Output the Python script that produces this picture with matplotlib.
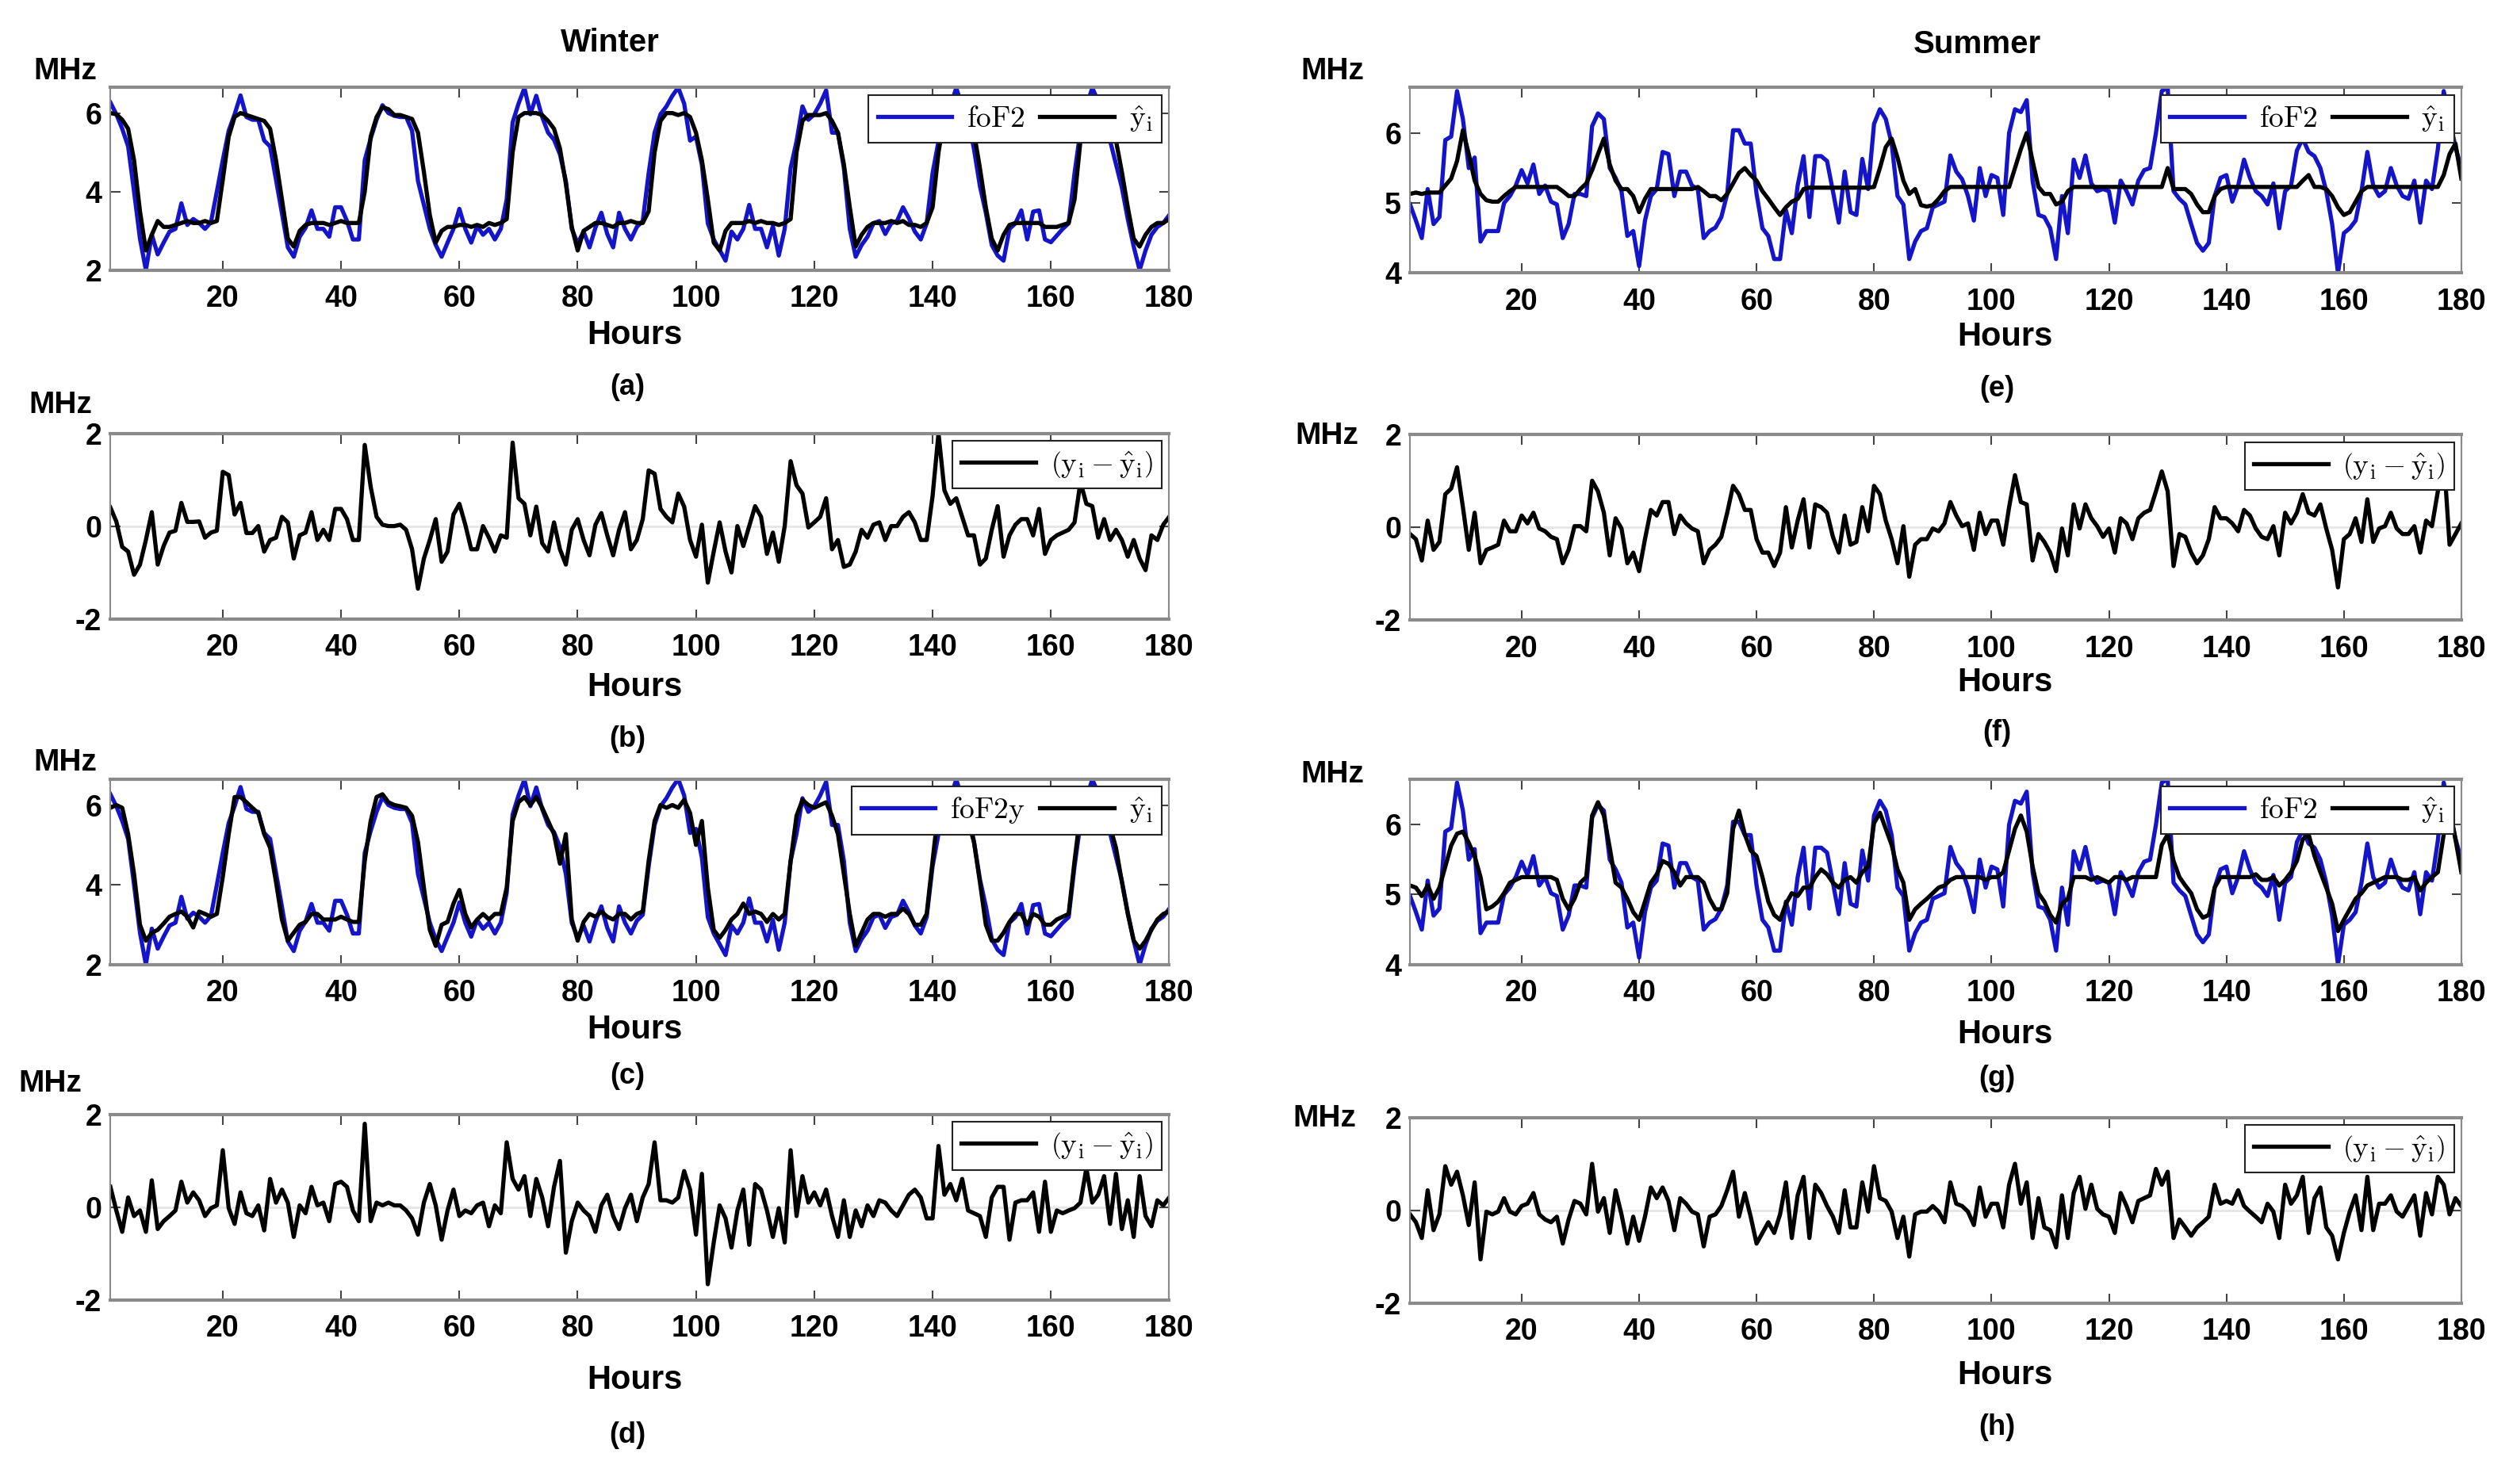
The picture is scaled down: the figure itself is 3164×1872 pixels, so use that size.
import matplotlib
matplotlib.use('Agg')
import matplotlib.pyplot as plt
import numpy as np

plt.rcParams['font.family'] = ['Liberation Sans', 'DejaVu Sans']
plt.rcParams['mathtext.fontset'] = 'cm'
plt.rcParams['axes.unicode_minus'] = False

hours = list(range(1, 181))

# Winter, panel (a)/(c): measured foF2
winter_fof2 = [
    6.27, 5.97, 5.6, 5.15, 4.0, 2.8, 2.0, 2.9, 2.4, 2.7,
    2.98, 3.05, 3.7, 3.15, 3.3, 3.2, 3.05, 3.22, 4.0, 4.8,
    5.55, 5.97, 6.45, 5.9, 5.83, 5.83, 5.3, 5.15, 4.3, 3.45,
    2.58, 2.34, 2.85, 3.08, 3.52, 3.05, 3.05, 2.85, 3.6, 3.6,
    3.25, 2.78, 2.78, 4.8, 5.35, 5.83, 6.2, 6.0, 5.93, 5.9,
    5.9, 5.55, 4.27, 3.66, 3.05, 2.64, 2.34, 2.7, 3.05, 3.56,
    3.05, 2.7, 3.12, 2.9, 3.05, 2.78, 3.05, 3.8, 5.76, 6.24,
    6.64, 5.97, 6.44, 5.9, 5.5, 5.32, 4.95, 4.27, 3.05, 2.68,
    2.98, 2.58, 3.08, 3.46, 2.92, 2.58, 3.46, 3.05, 2.78, 3.1,
    3.25, 4.47, 5.5, 5.97, 6.17, 6.44, 6.65, 6.24, 5.3, 5.4,
    4.68, 3.19, 2.78, 2.51, 2.24, 2.98, 2.78, 3.05, 3.66, 3.05,
    3.05, 2.58, 3.12, 2.37, 3.05, 4.6, 5.28, 6.17, 5.83, 5.97,
    6.24, 6.58, 5.5, 5.5, 4.6, 3.05, 2.34, 2.64, 2.85, 3.19,
    3.25, 2.92, 3.19, 3.25, 3.6, 3.32, 2.98, 2.78, 3.19, 4.47,
    5.28, 5.83, 6.17, 6.64, 6.17, 5.83, 5.08, 4.14, 3.46, 2.64,
    2.37, 2.24, 3.05, 3.19, 3.52, 2.78, 3.49, 3.52, 2.78, 2.71,
    2.88, 3.05, 3.19, 4.47, 5.55, 6.17, 6.64, 6.3, 6.1, 5.3,
    4.7, 4.1, 3.3, 2.6, 2.0, 2.5, 2.9, 3.1, 3.2, 3.4]

# Winter, panel (a): model output
winter_yhat_a = [
    6.0, 5.97, 5.83, 5.6, 4.8, 3.5, 2.5, 2.9, 3.25, 3.1,
    3.1, 3.15, 3.2, 3.25, 3.2, 3.2, 3.25, 3.2, 3.25, 4.3,
    5.4, 5.9, 6.0, 5.95, 5.9, 5.85, 5.8, 5.6, 4.8, 3.8,
    2.8, 2.6, 3.0, 3.15, 3.2, 3.2, 3.2, 3.15, 3.2, 3.25,
    3.2, 3.2, 3.2, 4.0, 5.4, 5.9, 6.15, 6.1, 5.95, 5.95,
    5.9, 5.85, 5.5, 4.5, 3.4, 2.7, 3.0, 3.1, 3.1, 3.15,
    3.15, 3.1, 3.15, 3.1, 3.2, 3.15, 3.2, 3.3, 5.0, 5.9,
    6.0, 6.0, 6.0, 5.95, 5.8, 5.6, 5.1, 4.2, 3.1, 2.5,
    3.0, 3.1, 3.2, 3.2, 3.15, 3.1, 3.2, 3.2, 3.25, 3.2,
    3.2, 3.5, 5.0, 5.8, 6.0, 6.0, 5.95, 6.0, 5.9, 5.5,
    4.8, 3.8, 2.7, 2.5, 3.0, 3.2, 3.2, 3.2, 3.25, 3.2,
    3.25, 3.2, 3.2, 3.15, 3.2, 3.3, 5.0, 5.8, 5.95, 5.95,
    5.95, 6.0, 5.8, 5.5, 4.7, 3.6, 2.6, 2.9, 3.1, 3.2,
    3.2, 3.2, 3.25, 3.2, 3.25, 3.15, 3.15, 3.1, 3.2, 3.6,
    5.0, 5.9, 6.05, 6.1, 6.0, 5.9, 5.5, 4.6, 3.6, 2.8,
    2.5, 2.9, 3.15, 3.2, 3.2, 3.2, 3.2, 3.2, 3.1, 3.1,
    3.1, 3.15, 3.2, 3.8, 5.3, 5.9, 6.05, 6.0, 5.95, 5.8,
    5.3, 4.5, 3.6, 2.8, 2.6, 2.9, 3.1, 3.2, 3.2, 3.3]

# Winter, panel (b): residual
winter_resid_b = [
    0.4, 0.1, -0.45, -0.55, -1.05, -0.83, -0.3, 0.3, -0.83, -0.43,
    -0.14, -0.1, 0.5, 0.09, 0.09, 0.1, -0.25, -0.14, -0.1, 1.17,
    1.1, 0.25, 0.5, -0.15, -0.15, 0.0, -0.55, -0.3, -0.25, 0.2,
    0.08, -0.7, -0.2, -0.14, 0.3, -0.3, -0.08, -0.3, 0.37, 0.37,
    0.15, -0.3, -0.3, 1.75, 0.85, 0.2, 0.03, 0.0, 0.0, 0.03,
    -0.08, -0.5, -1.35, -0.7, -0.3, 0.15, -0.77, -0.55, 0.25, 0.48,
    0.03, -0.5, -0.5, 0.0, -0.25, -0.55, -0.2, -0.25, 1.8, 0.6,
    0.48, -0.2, 0.42, -0.37, -0.55, 0.08, -0.5, -0.83, -0.08, 0.15,
    -0.3, -0.63, 0.03, 0.28, -0.2, -0.63, -0.08, 0.3, -0.5, -0.3,
    0.15, 1.2, 1.13, 0.37, 0.2, 0.08, 0.7, 0.42, -0.3, -0.66,
    0.03, -1.22, -0.55, 0.08, -0.55, -1.0, 0.0, -0.43, 0.0, 0.43,
    0.2, -0.6, -0.14, -0.77, 0.0, 1.4, 0.88, 0.7, -0.03, 0.08,
    0.2, 0.6, -0.5, -0.3, -0.88, -0.83, -0.55, -0.08, -0.25, 0.03,
    0.08, -0.3, 0.0, 0.0, 0.2, 0.3, 0.08, -0.3, -0.3, 0.65,
    2.0, 0.77, 0.48, 0.6, 0.2, -0.2, -0.2, -0.83, -0.7, -0.08,
    0.43, -0.66, -0.2, 0.03, 0.15, 0.15, -0.2, 0.37, -0.6, -0.3,
    -0.2, -0.14, -0.08, 0.08, 0.95, 0.48, 0.43, -0.25, 0.15, -0.3,
    -0.08, -0.3, -0.66, -0.3, -0.7, -0.95, -0.2, -0.3, 0.03, 0.2]

# Winter, panel (c): model output
winter_yhat_c = [
    5.93, 6.0, 5.93, 5.27, 4.27, 3.0, 2.6, 2.8, 2.87, 3.03,
    3.2, 3.27, 3.33, 3.2, 2.93, 3.33, 3.27, 3.2, 3.27, 4.2,
    5.27, 6.2, 6.2, 6.07, 5.93, 5.8, 5.27, 4.93, 4.07, 3.13,
    2.6, 2.8, 3.0, 3.07, 3.27, 3.27, 3.13, 3.13, 3.13, 3.2,
    3.13, 3.07, 3.07, 4.6, 5.6, 6.2, 6.27, 6.07, 6.0, 5.97,
    5.93, 5.73, 5.07, 3.93, 2.87, 2.47, 3.0, 3.07, 3.53, 3.87,
    3.27, 2.93, 3.13, 3.27, 3.13, 3.27, 3.27, 3.93, 5.6, 6.07,
    6.2, 6.0, 6.2, 5.93, 5.6, 5.27, 4.53, 5.27, 3.13, 2.6,
    3.07, 3.27, 3.2, 3.33, 3.2, 3.13, 3.27, 3.27, 3.13, 3.27,
    3.33, 4.6, 5.6, 6.0, 5.93, 6.0, 5.93, 6.13, 5.8, 5.0,
    5.6, 3.93, 2.87, 2.67, 2.87, 3.13, 3.27, 3.53, 3.27, 3.33,
    3.27, 3.07, 3.27, 3.13, 3.27, 4.6, 5.73, 6.13, 6.0, 5.93,
    6.0, 6.07, 5.73, 5.27, 4.27, 3.27, 2.47, 2.8, 3.13, 3.27,
    3.27, 3.2, 3.27, 3.27, 3.4, 3.27, 3.0, 3.0, 3.27, 4.6,
    5.93, 6.27, 6.33, 6.27, 5.93, 5.6, 5.07, 4.07, 3.0, 2.6,
    2.6, 2.8, 3.07, 3.27, 3.27, 3.0, 3.27, 3.2, 3.0, 3.0,
    3.13, 3.2, 3.27, 4.6, 5.8, 6.27, 6.4, 6.2, 5.93, 5.47,
    4.93, 4.07, 3.27, 2.6, 2.4, 2.6, 2.87, 3.13, 3.27, 3.33]

# Winter, panel (d): residual
winter_resid_d = [
    0.44, -0.07, -0.53, 0.21, -0.19, -0.07, -0.53, 0.58, -0.47, -0.3,
    -0.19, -0.07, 0.55, 0.1, 0.32, 0.15, -0.19, -0.02, 0.04, 1.23,
    -0.02, -0.36, 0.32, -0.13, -0.19, 0.04, -0.5, 0.61, 0.1, 0.38,
    0.1, -0.64, 0.04, -0.13, 0.44, 0.04, 0.1, -0.3, 0.5, 0.55,
    0.44, -0.07, -0.3, 1.8, -0.3, 0.1, 0.04, 0.1, 0.04, 0.04,
    -0.07, -0.24, -0.59, 0.1, 0.5, 0.04, -0.7, -0.07, 0.38, -0.19,
    -0.07, -0.13, 0.04, 0.1, -0.41, 0.04, -0.13, 1.4, 0.61, 0.38,
    0.67, -0.19, 0.61, 0.21, -0.41, 0.44, 1.0, -0.98, -0.3, 0.1,
    -0.07, -0.19, -0.53, 0.04, 0.27, -0.19, -0.47, -0.02, 0.27, -0.3,
    0.21, 0.5, 1.4, 0.15, 0.15, 0.1, 0.21, 0.78, 0.38, -0.59,
    0.72, -1.66, -0.76, 0.04, -0.24, -0.87, -0.07, 0.38, -0.81, 0.5,
    0.38, -0.07, -0.64, -0.02, -0.76, 1.23, -0.19, 0.67, 0.1, 0.32,
    0.04, 0.38, -0.19, -0.64, 0.15, -0.64, -0.07, -0.41, 0.04, -0.19,
    0.15, 0.1, -0.07, -0.19, 0.04, 0.27, 0.38, 0.21, -0.24, -0.24,
    1.32, 0.27, 0.5, 0.15, 0.61, -0.07, -0.13, -0.19, -0.64, 0.21,
    0.44, 0.44, -0.7, 0.1, 0.15, 0.15, 0.32, -0.53, 0.55, -0.53,
    -0.07, -0.13, -0.07, -0.02, 0.1, 0.84, 0.1, 0.27, 0.67, -0.36,
    0.72, -0.47, 0.15, -0.64, 0.67, -0.19, -0.41, 0.15, 0.04, 0.21]

# Summer, panel (e)/(g): measured foF2
summer_fof2 = [
    4.98, 4.75, 4.5, 5.2, 4.7, 4.8, 5.9, 5.95, 6.6, 6.2,
    5.5, 5.65, 4.45, 4.6, 4.6, 4.6, 5.0, 5.1, 5.25, 5.47,
    5.28, 5.55, 5.13, 5.25, 5.02, 4.98, 4.5, 4.7, 5.13, 5.13,
    5.1, 6.1, 6.28, 6.2, 5.5, 5.36, 5.17, 4.53, 4.6, 4.1,
    4.75, 5.1, 5.2, 5.73, 5.7, 5.1, 5.45, 5.45, 5.25, 5.2,
    4.5, 4.6, 4.65, 4.8, 5.13, 6.04, 6.04, 5.85, 5.85, 5.13,
    4.64, 4.53, 4.2, 4.2, 4.9, 4.57, 5.25, 5.67, 4.8, 5.67,
    5.67, 5.6, 5.17, 4.72, 5.45, 4.87, 4.83, 5.63, 5.2, 6.13,
    6.34, 6.2, 5.85, 5.1, 4.98, 4.2, 4.45, 4.6, 4.64, 4.94,
    4.98, 5.02, 5.68, 5.45, 5.34, 5.1, 4.75, 5.5, 5.1, 5.4,
    5.36, 4.83, 6.0, 6.34, 6.3, 6.47, 5.32, 4.83, 4.8, 4.64,
    4.2, 5.1, 4.57, 5.62, 5.36, 5.68, 5.28, 5.17, 5.2, 5.17,
    4.72, 5.32, 5.17, 4.98, 5.32, 5.47, 5.5, 6.0, 6.6, 6.65,
    5.17, 5.06, 4.98, 4.7, 4.43, 4.32, 4.43, 5.1, 5.36, 5.4,
    5.02, 5.25, 5.62, 5.36, 5.17, 5.1, 4.98, 5.28, 4.64, 5.17,
    5.25, 5.75, 5.92, 5.73, 5.67, 5.5, 5.17, 4.7, 4.0, 4.57,
    4.64, 4.75, 5.17, 5.73, 5.25, 5.1, 5.17, 5.5, 5.25, 5.1,
    5.06, 5.32, 4.72, 5.32, 5.2, 5.77, 6.6, 6.2, 5.8, 5.5]

# Summer, panel (e): model output
summer_yhat_e = [
    5.13, 5.15, 5.13, 5.15, 5.15, 5.15, 5.25, 5.35, 5.6, 6.04,
    5.7, 5.32, 5.13, 5.04, 5.02, 5.02, 5.1, 5.17, 5.23, 5.23,
    5.23, 5.23, 5.23, 5.23, 5.23, 5.23, 5.17, 5.1, 5.1, 5.2,
    5.28, 5.47, 5.7, 5.92, 5.55, 5.32, 5.2, 5.2, 5.1, 4.87,
    5.06, 5.2, 5.2, 5.2, 5.2, 5.2, 5.2, 5.2, 5.2, 5.23,
    5.17, 5.1, 5.1, 5.04, 5.13, 5.28, 5.43, 5.5, 5.4, 5.32,
    5.17, 5.06, 4.94, 4.83, 4.94, 5.02, 5.06, 5.2, 5.22, 5.22,
    5.22, 5.22, 5.22, 5.22, 5.22, 5.22, 5.22, 5.22, 5.22, 5.23,
    5.5, 5.8, 5.92, 5.65, 5.32, 5.13, 5.2, 4.97, 4.95, 4.97,
    5.06, 5.17, 5.23, 5.23, 5.23, 5.23, 5.23, 5.23, 5.23, 5.23,
    5.23, 5.23, 5.23, 5.5, 5.77, 6.0, 5.6, 5.23, 5.13, 5.13,
    4.98, 5.02, 5.17, 5.23, 5.23, 5.23, 5.23, 5.23, 5.23, 5.23,
    5.23, 5.23, 5.23, 5.23, 5.23, 5.23, 5.23, 5.23, 5.23, 5.5,
    5.2, 5.2, 5.2, 5.13, 4.98, 4.87, 4.87, 5.1, 5.2, 5.23,
    5.23, 5.23, 5.23, 5.23, 5.23, 5.23, 5.23, 5.23, 5.23, 5.23,
    5.23, 5.23, 5.32, 5.4, 5.23, 5.23, 5.2, 5.1, 4.94, 4.83,
    4.87, 5.02, 5.17, 5.23, 5.23, 5.23, 5.23, 5.23, 5.23, 5.23,
    5.23, 5.23, 5.23, 5.23, 5.23, 5.23, 5.4, 5.7, 5.85, 5.35]

# Summer, panel (f): residual
summer_resid_f = [
    -0.14, -0.25, -0.71, 0.15, -0.48, -0.31, 0.72, 0.84, 1.3, 0.44,
    -0.48, 0.32, -0.77, -0.48, -0.43, -0.37, 0.15, -0.08, -0.08, 0.26,
    0.09, 0.32, -0.02, -0.08, -0.2, -0.25, -0.77, -0.48, 0.03, 0.03,
    -0.08, 1.01, 0.78, 0.32, -0.6, 0.2, -0.02, -0.77, -0.54, -0.94,
    -0.25, 0.38, 0.26, 0.55, 0.55, -0.14, 0.26, 0.09, -0.02, -0.08,
    -0.77, -0.48, -0.37, -0.2, 0.32, 0.9, 0.72, 0.38, 0.38, -0.25,
    -0.54, -0.54, -0.83, -0.54, 0.44, -0.43, 0.15, 0.61, -0.43, 0.5,
    0.44, 0.32, -0.2, -0.54, 0.26, -0.37, -0.31, 0.44, -0.08, 0.9,
    0.72, 0.15, -0.25, -0.77, 0.03, -1.06, -0.37, -0.25, -0.25, -0.02,
    -0.08, 0.09, 0.55, 0.26, 0.03, 0.09, -0.48, 0.32, -0.14, 0.15,
    0.15, -0.37, 0.44, 1.13, 0.55, 0.5, -0.71, -0.14, -0.31, -0.54,
    -0.94, -0.02, -0.6, 0.5, -0.02, 0.5, 0.2, 0.03, -0.2, -0.02,
    -0.54, 0.2, 0.09, -0.25, 0.2, 0.32, 0.38, 0.78, 1.21, 0.78,
    -0.83, -0.14, -0.2, -0.54, -0.77, -0.6, -0.25, 0.44, 0.2, 0.2,
    0.09, -0.08, 0.38, 0.26, -0.02, -0.2, -0.25, 0.03, -0.6, 0.32,
    0.09, 0.32, 0.72, 0.32, 0.26, 0.5, -0.02, -0.48, -1.29, -0.25,
    -0.14, 0.2, -0.31, 0.61, -0.31, -0.02, 0.03, 0.32, -0.02, -0.14,
    -0.14, 0.03, -0.54, 0.15, 0.03, 0.78, 1.53, -0.37, -0.14, 0.09]

# Summer, panel (g): model output
summer_yhat_g = [
    5.13, 5.1, 4.98, 5.13, 4.94, 5.1, 5.4, 5.7, 5.87, 5.9,
    5.74, 5.55, 5.25, 4.79, 4.83, 4.9, 5.02, 5.17, 5.21, 5.25,
    5.25, 5.25, 5.25, 5.25, 5.25, 5.21, 4.94, 4.79, 4.94, 5.17,
    5.25, 6.13, 6.32, 6.13, 5.67, 5.17, 5.1, 4.94, 4.75, 4.64,
    4.9, 5.17, 5.29, 5.48, 5.44, 5.32, 5.13, 5.25, 5.25, 5.25,
    5.17, 4.94, 4.79, 4.79, 5.02, 5.94, 6.2, 5.86, 5.63, 5.55,
    5.25, 4.9, 4.71, 4.64, 4.87, 5.02, 4.98, 5.1, 5.1, 5.25,
    5.36, 5.29, 5.17, 5.1, 5.21, 5.25, 5.17, 5.32, 5.4, 6.02,
    6.17, 5.94, 5.71, 5.36, 5.17, 4.64, 4.79, 4.87, 4.94, 5.02,
    5.1, 5.13, 5.21, 5.25, 5.25, 5.25, 5.25, 5.25, 5.21, 5.25,
    5.25, 5.32, 5.63, 5.94, 6.13, 5.9, 5.4, 5.02, 4.9, 4.71,
    4.6, 4.87, 4.94, 5.25, 5.25, 5.25, 5.21, 5.25, 5.21, 5.17,
    5.25, 5.25, 5.21, 5.25, 5.25, 5.25, 5.25, 5.25, 5.71, 5.86,
    5.48, 5.25, 5.13, 5.02, 4.79, 4.67, 4.71, 5.1, 5.25, 5.25,
    5.25, 5.25, 5.25, 5.25, 5.29, 5.21, 5.21, 5.25, 5.13, 5.21,
    5.32, 5.48, 5.79, 5.86, 5.55, 5.32, 5.1, 4.87, 4.48, 4.64,
    4.79, 4.94, 5.02, 5.13, 5.17, 5.21, 5.25, 5.25, 5.25, 5.21,
    5.21, 5.25, 5.06, 5.17, 5.25, 5.32, 5.86, 6.24, 5.79, 5.32]

# Summer, panel (h): residual
summer_resid_h = [
    -0.09, -0.26, -0.6, 0.43, -0.43, -0.09, 0.95, 0.55, 0.83, 0.32,
    -0.32, 0.6, -1.06, -0.03, -0.09, -0.03, 0.26, -0.03, -0.09, 0.09,
    0.14, 0.37, -0.09, -0.2, -0.26, -0.14, -0.72, -0.2, 0.2, 0.14,
    -0.09, 1.0, -0.03, 0.26, -0.49, 0.43, -0.09, -0.72, -0.14, -0.66,
    -0.14, 0.49, 0.26, 0.49, 0.2, -0.43, 0.26, 0.14, -0.03, -0.09,
    -0.78, -0.14, -0.09, 0.09, 0.43, 0.83, -0.14, 0.37, -0.14, -0.72,
    -0.49, -0.26, -0.49, -0.09, 0.6, -0.6, 0.32, 0.72, -0.6, 0.55,
    0.37, 0.09, -0.14, -0.49, 0.43, -0.37, -0.37, 0.6, -0.03, 0.95,
    0.26, 0.2, -0.03, -0.6, -0.14, -1.0, -0.09, -0.03, -0.03, 0.09,
    -0.03, -0.26, 0.6, 0.14, 0.09, -0.03, -0.32, 0.49, -0.14, 0.14,
    0.14, -0.37, 0.55, 1.0, 0.14, 0.6, -0.6, 0.26, -0.37, -0.43,
    -0.8, 0.32, -0.6, 0.37, 0.72, 0.03, 0.55, 0.03, -0.09, -0.14,
    -0.49, 0.37, 0.09, -0.26, 0.2, 0.26, 0.32, 0.89, 0.55, 0.83,
    -0.6, -0.2, -0.37, -0.55, -0.37, -0.26, -0.14, 0.55, 0.14, 0.2,
    0.14, 0.43, 0.09, -0.03, -0.14, -0.26, 0.14, -0.03, -0.6, 0.55,
    0.14, 0.32, 0.72, -0.49, 0.26, 0.49, -0.37, -0.55, -1.06, -0.49,
    -0.03, 0.32, -0.43, 0.72, -0.43, 0.14, 0.14, 0.32, -0.03, -0.14,
    0.09, 0.32, -0.55, 0.37, -0.09, 0.72, 0.55, -0.09, 0.26, 0.09]

BLUE = '#1414c8'
EDGE = '#8a8a8a'
LW = 3.8

fit_lab = r'$\hat{\mathrm{y}}_\mathrm{i}$'
res_lab = r'$\left(\mathrm{y}_\mathrm{i}-\hat{\mathrm{y}}_\mathrm{i}\right)$'

fig = plt.figure(figsize=(31.64, 18.72), dpi=100)

left_x = (0.044, 0.422)
right_x = (0.562, 0.419)
rows = [(0.818, 0.123), (0.583, 0.125), (0.350, 0.125), (0.124, 0.125)]
rows_r = [(0.816, 0.125), (0.582, 0.125), (0.350, 0.125), (0.122, 0.125)]


def style(ax, ylim, yticks):
    ax.set_xlim(1, 180)
    ax.set_ylim(*ylim)
    ax.set_xticks(range(20, 181, 20))
    ax.set_yticks(yticks)
    ax.tick_params(direction='in', length=9, width=1.5, color='#444444',
                   top=True, right=True, labelsize=27)
    ax.tick_params(axis='x', pad=13)
    ax.tick_params(axis='y', pad=8)
    for lab in ax.get_xticklabels() + ax.get_yticklabels():
        lab.set_fontweight('bold')
    for name, sp in ax.spines.items():
        sp.set_color(EDGE)
        sp.set_linewidth(3.0 if name in ('top', 'bottom') else 1.5)


def legend(ax, ncol):
    leg = ax.legend(loc='upper right', ncol=ncol, fontsize=27, frameon=True,
                    fancybox=False, framealpha=1, edgecolor='#222222',
                    handlelength=2.5, handletextpad=0.5, columnspacing=0.5,
                    borderpad=0.3, borderaxespad=0.25)
    leg.get_frame().set_linewidth(1.5)


def fit_panel(pos, meas, meas_lab, fit, ylim, yticks):
    ax = fig.add_axes(pos)
    ax.plot(hours, meas, color=BLUE, lw=LW, label=r'$\mathrm{' + meas_lab + '}$')
    ax.plot(hours, fit, color='black', lw=LW, label=fit_lab)
    style(ax, ylim, yticks)
    legend(ax, 2)
    return ax


def res_panel(pos, res):
    ax = fig.add_axes(pos)
    ax.axhline(0, color='#e6e6e6', lw=2, zorder=0)
    ax.plot(hours, res, color='black', lw=LW, label=res_lab)
    style(ax, (-2, 2), [-2, 0, 2])
    legend(ax, 1)
    return ax


# left column: winter
fit_panel([left_x[0], rows[0][0], left_x[1], rows[0][1]], winter_fof2, 'foF2',
          winter_yhat_a, (2, 6.65), [2, 4, 6])
res_panel([left_x[0], rows[1][0], left_x[1], rows[1][1]], winter_resid_b)
fit_panel([left_x[0], rows[2][0], left_x[1], rows[2][1]], winter_fof2, 'foF2y',
          winter_yhat_c, (2, 6.65), [2, 4, 6])
res_panel([left_x[0], rows[3][0], left_x[1], rows[3][1]], winter_resid_d)

# right column: summer
fit_panel([right_x[0], rows_r[0][0], right_x[1], rows_r[0][1]], summer_fof2, 'foF2',
          summer_yhat_e, (4, 6.65), [4, 5, 6])
res_panel([right_x[0], rows_r[1][0], right_x[1], rows_r[1][1]], summer_resid_f)
fit_panel([right_x[0], rows_r[2][0], right_x[1], rows_r[2][1]], summer_fof2, 'foF2',
          summer_yhat_g, (4, 6.65), [4, 5, 6])
res_panel([right_x[0], rows_r[3][0], right_x[1], rows_r[3][1]], summer_resid_h)

kw = dict(ha='center', va='center', fontweight='bold')
fig.text(0.243, 0.971, 'Winter', fontsize=29, **kw)
fig.text(0.788, 0.970, 'Summer', fontsize=29, **kw)

# "MHz" unit labels
for x, y in [(0.026, 0.952), (0.024, 0.727), (0.026, 0.486), (0.020, 0.270),
             (0.531, 0.952), (0.529, 0.706), (0.531, 0.478), (0.528, 0.246)]:
    fig.text(x, y, 'MHz', fontsize=28, **kw)

# axis titles and panel letters
hours_y = [0.774, 0.537, 0.306, 0.070]
hours_y_r = [0.773, 0.540, 0.303, 0.073]
letter_y = [0.739, 0.502, 0.275, 0.033]
letter_y_r = [0.738, 0.506, 0.273, 0.038]
for i, l in enumerate('abcd'):
    fig.text(0.253, hours_y[i], 'Hours', fontsize=30, **kw)
    fig.text(0.250, letter_y[i], '(' + l + ')', fontsize=26, **kw)
for i, l in enumerate('efgh'):
    fig.text(0.799, hours_y_r[i], 'Hours', fontsize=30, **kw)
    fig.text(0.796, letter_y_r[i], '(' + l + ')', fontsize=26, **kw)

fig.savefig('out.png', dpi=100)
